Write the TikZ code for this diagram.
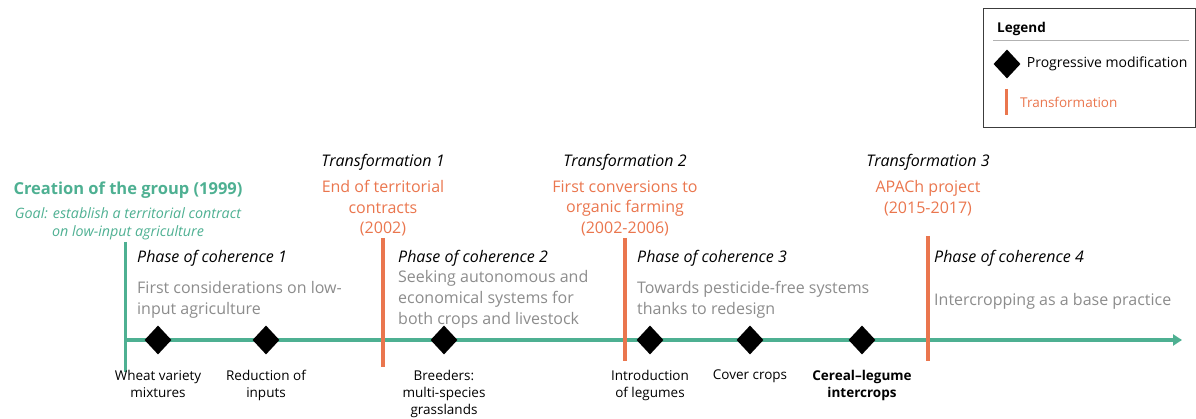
\documentclass[tikz,border=0pt]{standalone}
\usepackage{fontspec}
\setmainfont{Open Sans}
\usetikzlibrary{shapes.geometric, arrows.meta, positioning}
\definecolor{groupgreen}{RGB}{78,176,146}
\definecolor{transorange}{RGB}{234,118,78}
\definecolor{phasegray}{RGB}{140,140,140}
\definecolor{boxgray}{RGB}{60,60,60}

\begin{document}
\begin{tikzpicture}[x=1pt, y=-1pt]
	% Styles for the timeline, its events and its texts.
	\tikzset{
		milestone/.style={diamond, fill=black, minimum width=27pt, minimum height=29pt, inner sep=0pt},
		modlabel/.style={anchor=north, align=center, inner sep=0pt, font=\fontsize{13.5}{17}\selectfont},
		timeline/.style={groupgreen, line width=4pt, -{Triangle[length=9pt, width=11pt]}},
		transline/.style={transorange, line width=3.5pt},
		groupline/.style={groupgreen, line width=3pt},
		phasetitle/.style={anchor=north west, inner sep=0pt, font=\fontsize{16}{20}\selectfont\itshape},
		phasetext/.style={anchor=north west, align=left, inner sep=0pt, text=phasegray, font=\fontsize{16}{21}\selectfont},
		transtitle/.style={anchor=north, inner sep=0pt, font=\fontsize{16}{20}\selectfont\itshape},
		transtext/.style={anchor=north, align=center, inner sep=0pt, text=transorange, font=\fontsize{16}{20.5}\selectfont}
	}
	\useasboundingbox (0,0) rectangle (1196,419);

	% === TIMELINE ===
	\coordinate (start) at (125,340);
	\coordinate (end) at (1182,340);
	\coordinate (g top) at (125,242);
	\coordinate (g bot) at (125,372);
	\coordinate (t1 top) at (383,238);
	\coordinate (t1 bot) at (383,367);
	\coordinate (t2 top) at (625,238);
	\coordinate (t2 bot) at (625,361);
	\coordinate (t3 top) at (928,236);
	\coordinate (t3 bot) at (928,361);

	\draw[timeline] (start) -- (end);
	\draw[groupline] (g top) -- (g bot);
	\draw[transline] (t1 top) -- (t1 bot);
	\draw[transline] (t2 top) -- (t2 bot);
	\draw[transline] (t3 top) -- (t3 bot);

	% === PROGRESSIVE MODIFICATIONS ===
	\node[milestone] (m1) at (158,340) {};
	\node[milestone] (m2) at (266,340) {};
	\node[milestone] (m3) at (444,340) {};
	\node[milestone] (m4) at (650,340) {};
	\node[milestone] (m5) at (750,340) {};
	\node[milestone] (m6) at (862,340) {};

	\node[modlabel, below=15pt of m1] (l1) {Wheat variety\\mixtures};
	\node[modlabel, below=15pt of m2] (l2) {Reduction of\\inputs};
	\node[modlabel, below=15pt of m3] (l3) {Breeders:\\multi-species\\grasslands};
	\node[modlabel, below=15pt of m4] (l4) {Introduction\\of legumes};
	\node[modlabel, below=15pt of m5] (l5) {Cover crops};
	\node[modlabel, below=15pt of m6, font=\fontsize{13.5}{17}\selectfont\bfseries] (l6) {Cereal--legume\\intercrops};

	% === GROUP CREATION AND TRANSFORMATIONS ===
	\node[anchor=north, inner sep=0pt, text=groupgreen, font=\fontsize{16.5}{20}\selectfont\bfseries] (group) at (128,182) {Creation of the group (1999)};
	\node[anchor=north, align=center, inner sep=0pt, text=groupgreen, font=\fontsize{14.3}{18}\selectfont\itshape, below=8pt of group] (goal) {Goal: establish a territorial contract\\on low-input agriculture};

	\node[transtitle] (tr1) at (383,154) {Transformation 1};
	\node[transtext, below=10pt of tr1] (tr1text) {End of territorial\\contracts\\(2002)};
	\node[transtitle] (tr2) at (625,154) {Transformation 2};
	\node[transtext, below=10pt of tr2] (tr2text) {First conversions to\\organic farming\\(2002-2006)};
	\node[transtitle] (tr3) at (928,154) {Transformation 3};
	\node[transtext, below=10pt of tr3] (tr3text) {APACh project\\(2015-2017)};

	% === PHASES OF COHERENCE ===
	\node[phasetitle] (ph1) at (137,250) {Phase of coherence 1};
	\node[phasetext] (ph1text) at (137,281) {First considerations on low-\\input agriculture};
	\node[phasetitle] (ph2) at (398,250) {Phase of coherence 2};
	\node[phasetext] (ph2text) at (398,270) {Seeking autonomous and\\economical systems for\\both crops and livestock};
	\node[phasetitle] (ph3) at (637,250) {Phase of coherence 3};
	\node[phasetext] (ph3text) at (637,281) {Towards pesticide-free systems\\thanks to redesign};
	\node[phasetitle] (ph4) at (934,250) {Phase of coherence 4};
	\node[phasetext] (ph4text) at (934,293) {Intercropping as a base practice};

	% === LEGEND ===
	\node[draw=boxgray, line width=1.2pt, anchor=north west, minimum width=212pt, minimum height=119pt] (legend) at (983,8) {};
	\node[anchor=base west, inner sep=0pt, font=\fontsize{13.5}{16}\selectfont\bfseries] (legtitle) at (997,33) {Legend};
	\coordinate (rule left) at (993,41);
	\coordinate (rule right) at (1189,41);
	\draw[gray!60, line width=1pt] (rule left) -- (rule right);
	\node[milestone] (legmod) at (1007,64) {};
	\node[anchor=west, inner sep=0pt, font=\fontsize{14}{16}\selectfont, right=6pt of legmod] (legmodtext) {Progressive modification};
	\coordinate (bar top) at (1006,89);
	\coordinate (bar bot) at (1006,115);
	\draw[transline, line width=3pt] (bar top) -- (bar bot);
	\node[anchor=west, inner sep=0pt, text=transorange, font=\fontsize{13.5}{16}\selectfont] (legtrans) at (1020,102) {Transformation};
\end{tikzpicture}
\end{document}
